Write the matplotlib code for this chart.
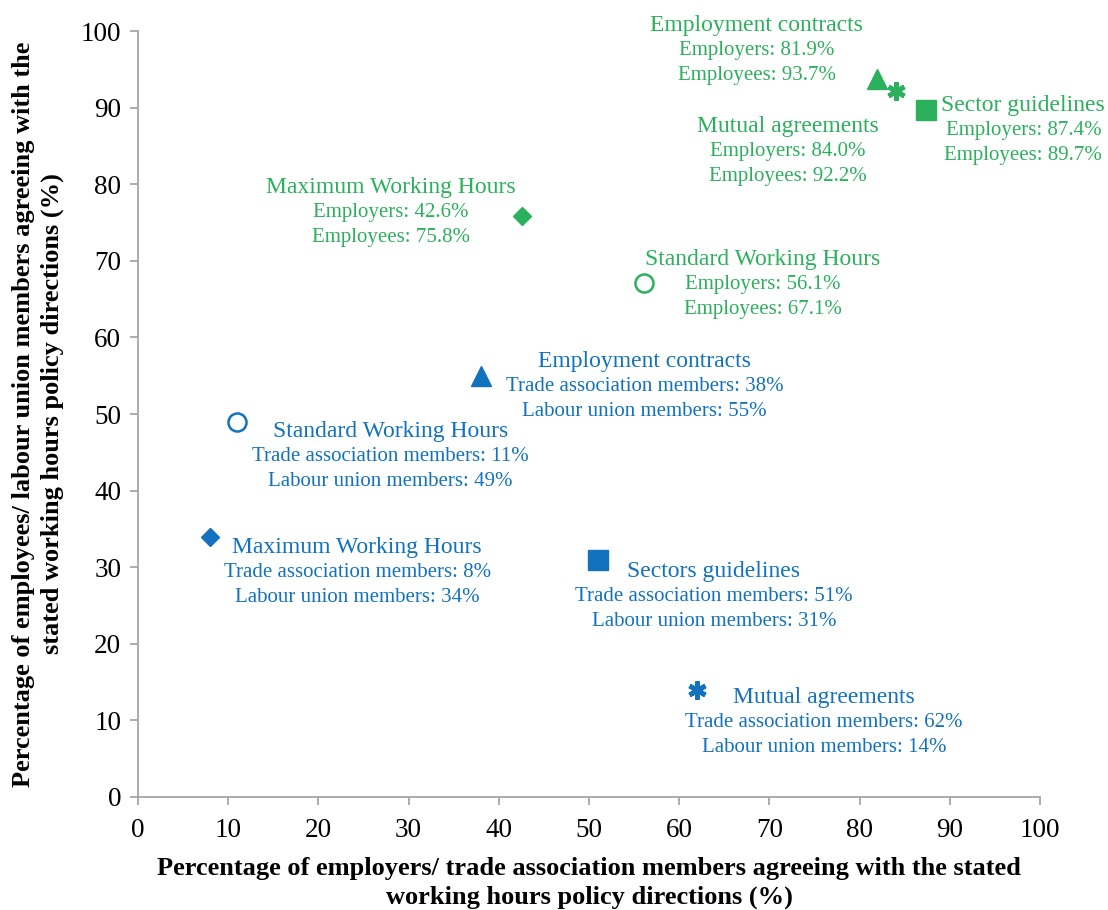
import matplotlib.pyplot as plt

plt.rcParams['font.family'] = ['Liberation Serif', 'DejaVu Serif']

GREEN = '#2bb05c'
BLUE = '#1272bd'

policies = ['Employment contracts', 'Mutual agreements', 'Sector guidelines',
            'Maximum Working Hours', 'Standard Working Hours']
markers = ['^', (6, 2, 0), 's', 'D', 'o']

# employers (x) vs employees (y)
emp_x = [81.9, 84.0, 87.4, 42.6, 56.1]
emp_y = [93.7, 92.2, 89.7, 75.8, 67.1]
emp_titles = ['Employment contracts', 'Mutual agreements', 'Sector guidelines',
              'Maximum Working Hours', 'Standard Working Hours']

# trade association members (x) vs labour union members (y)
uni_x = [38, 62, 51, 8, 11]
uni_y = [55, 14, 31, 34, 49]
uni_titles = ['Employment contracts', 'Mutual agreements', 'Sectors guidelines',
              'Maximum Working Hours', 'Standard Working Hours']

# label offsets (pixels) of the title line from each point
emp_off = [(-120, 54), (-108, -36), (97, 4), (-131, 29), (119, 24)]
uni_off = [(164, 14), (127, -8), (116, -12), (147, -11), (153, -10)]

fig = plt.figure(figsize=(11.08, 9.1), dpi=100)
ax = fig.add_axes([0.1245, 0.1242, 0.8141, 0.8417])


def draw(xs, ys, titles, offs, color, lab1, lab2, fmt):
    for x, y, t, m, (dx, dy) in zip(xs, ys, titles, markers, offs):
        if m == 'o':
            ax.plot(x, y, marker='o', ms=13, mfc='white', mec=color, mew=1.8,
                    ls='none', zorder=3)
        elif m == 's':
            ax.plot(x, y, marker='s', ms=14, color=color, ls='none', zorder=3)
        elif m == 'D':
            ax.plot(x, y, marker='D', ms=9, color=color, ls='none', zorder=3)
        elif m == '^':
            ax.plot(x, y, marker='^', ms=14, color=color, ls='none', zorder=3)
        else:
            ax.plot(x, y, marker=m, ms=13, color=color, mew=3.4, ls='none', zorder=3)
        ax.annotate(t, (x, y), xytext=(dx, dy), textcoords='offset pixels',
                    ha='center', va='center', color=color, fontsize=17)
        ax.annotate(lab1 + ': ' + fmt.format(x), (x, y), xytext=(dx, dy - 25),
                    textcoords='offset pixels', ha='center', va='center',
                    color=color, fontsize=15)
        ax.annotate(lab2 + ': ' + fmt.format(y), (x, y), xytext=(dx, dy - 50),
                    textcoords='offset pixels', ha='center', va='center',
                    color=color, fontsize=15)


draw(emp_x, emp_y, emp_titles, emp_off, GREEN, 'Employers', 'Employees', '{:.1f}%')
draw(uni_x, uni_y, uni_titles, uni_off, BLUE, 'Trade association members',
     'Labour union members', '{:.0f}%')

ax.set_xlim(0, 100)
ax.set_ylim(0, 100)
ax.set_xticks(range(0, 101, 10))
ax.set_yticks(range(0, 101, 10))
for s in ['top', 'right']:
    ax.spines[s].set_visible(False)
for s in ['left', 'bottom']:
    ax.spines[s].set_color('#a6a6a6')
    ax.spines[s].set_linewidth(1.3)
ax.tick_params(axis='both', colors='#a6a6a6', labelcolor='black', labelsize=19.5,
               length=6, width=1.3, direction='out')
ax.tick_params(axis='x', pad=9)
ax.tick_params(axis='y', pad=6)

ax.set_xlabel('Percentage of employers/ trade association members agreeing with the stated\n'
              'working hours policy directions (%)', fontsize=19, fontweight='bold',
              linespacing=1.3)
ax.set_ylabel('Percentage of employees/ labour union members agreeing with the\n'
              'stated working hours policy directions (%)', fontsize=19, fontweight='bold',
              linespacing=1.3)
ax.xaxis.set_label_coords(0.5, -0.078)
ax.yaxis.set_label_coords(-0.082, 0.5)

fig.savefig('out.png', dpi=100)
